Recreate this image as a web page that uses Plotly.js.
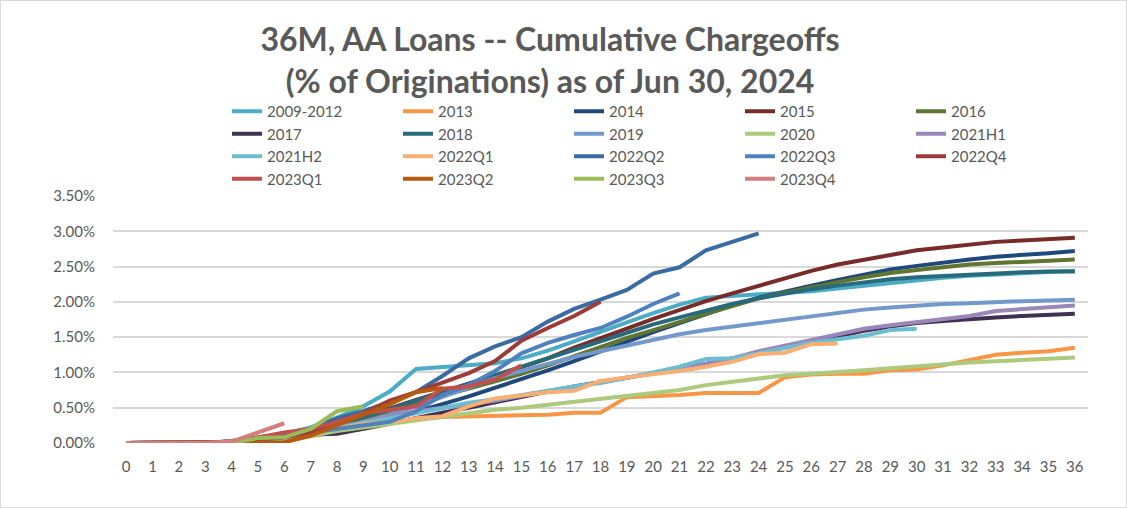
<!DOCTYPE html>
<html>
<head>
<meta charset="utf-8">
<script src="https://cdn.plot.ly/plotly-3.0.1.min.js"></script>
<style>
html,body{margin:0;padding:0;background:#fff;}
#wrap{position:relative;width:1127px;height:508px;}
#chart{width:1127px;height:508px;}
#frame{position:absolute;left:0;top:0;width:1125px;height:506px;border:1px solid #D9D9D9;pointer-events:none;}
</style>
</head>
<body>
<div id="wrap"><div id="chart"></div><div id="frame"></div></div>
<script>
// Months since origination (category axis)
const months = [0,1,2,3,4,5,6,7,8,9,10,11,12,13,14,15,16,17,18,19,20,21,22,23,24,25,26,27,28,29,30,31,32,33,34,35,36];

// Cumulative chargeoffs, % of originations, by vintage
const v2009_2012 = [0,0,0,0,0.02,0.07,0.13,0.22,0.36,0.52,0.73,1.05,1.08,1.11,1.13,1.20,1.31,1.44,1.58,1.71,1.84,1.96,2.06,2.08,2.10,2.12,2.15,2.19,2.23,2.27,2.31,2.34,2.37,2.39,2.41,2.43,2.44];
const v2013 = [0,0,0,0,0.01,0.03,0.06,0.10,0.15,0.20,0.27,0.35,0.37,0.38,0.38,0.40,0.40,0.43,0.43,0.65,0.66,0.68,0.71,0.71,0.71,0.93,0.97,0.98,0.98,1.03,1.04,1.10,1.17,1.25,1.28,1.30,1.35];
const v2014 = [0,0,0,0,0.01,0.05,0.08,0.11,0.15,0.24,0.34,0.45,0.55,0.66,0.78,0.90,1.03,1.16,1.30,1.44,1.57,1.70,1.83,1.95,2.06,2.15,2.23,2.31,2.39,2.46,2.51,2.56,2.60,2.64,2.66,2.69,2.72];
const v2015 = [0,0,0,0,0.03,0.08,0.12,0.17,0.26,0.37,0.49,0.61,0.73,0.84,0.95,1.07,1.20,1.35,1.48,1.62,1.76,1.89,2.01,2.12,2.23,2.34,2.44,2.53,2.60,2.67,2.73,2.77,2.81,2.85,2.87,2.89,2.91];
const v2016 = [0,0,0,0,0.01,0.04,0.08,0.13,0.22,0.32,0.44,0.56,0.67,0.77,0.87,0.98,1.10,1.23,1.36,1.49,1.60,1.72,1.83,1.94,2.05,2.13,2.21,2.28,2.35,2.41,2.45,2.49,2.53,2.55,2.57,2.59,2.60];
const v2017 = [0,0,0,0,0.01,0.05,0.10,0.12,0.13,0.20,0.28,0.36,0.43,0.50,0.58,0.66,0.73,0.80,0.86,0.92,0.98,1.05,1.12,1.20,1.28,1.36,1.44,1.52,1.59,1.65,1.70,1.73,1.76,1.78,1.80,1.82,1.83];
const v2018 = [0,0,0,0,0.01,0.05,0.10,0.16,0.25,0.36,0.48,0.60,0.72,0.83,0.95,1.07,1.20,1.32,1.44,1.56,1.68,1.78,1.88,1.97,2.05,2.12,2.18,2.23,2.28,2.32,2.35,2.37,2.39,2.41,2.42,2.43,2.43];
const v2019 = [0,0,0,0,0.01,0.03,0.06,0.12,0.20,0.30,0.40,0.52,0.65,0.78,0.92,1.02,1.12,1.22,1.30,1.38,1.46,1.54,1.60,1.65,1.69,1.75,1.80,1.84,1.89,1.92,1.95,1.97,1.98,2.00,2.01,2.02,2.03];
const v2020 = [0,0,0,0,0.01,0.03,0.06,0.10,0.17,0.22,0.27,0.33,0.38,0.43,0.47,0.50,0.54,0.58,0.62,0.66,0.70,0.75,0.82,0.87,0.92,0.96,0.98,1.00,1.03,1.06,1.09,1.12,1.14,1.16,1.18,1.20,1.21];
const v2021H1 = [0,0,0,0,0.02,0.06,0.10,0.15,0.22,0.30,0.38,0.45,0.50,0.55,0.60,0.67,0.74,0.80,0.86,0.92,0.98,1.05,1.12,1.20,1.30,1.38,1.47,1.55,1.62,1.67,1.71,1.75,1.80,1.87,1.90,1.93,1.95];
const v2021H2 = [0,0,0,0,0.02,0.05,0.10,0.15,0.22,0.28,0.35,0.42,0.50,0.57,0.62,0.68,0.75,0.80,0.85,0.92,1.00,1.08,1.19,1.20,1.27,1.35,1.42,1.47,1.52,1.60,1.62];
const v2022Q1 = [0,0,0,0,0.02,0.04,0.08,0.14,0.20,0.27,0.30,0.35,0.38,0.52,0.63,0.68,0.72,0.74,0.88,0.93,0.97,1.02,1.08,1.15,1.26,1.28,1.40,1.41];
const v2022Q2 = [0,0,0,0,0.02,0.05,0.12,0.20,0.35,0.45,0.58,0.72,0.95,1.20,1.37,1.50,1.72,1.90,2.03,2.17,2.40,2.49,2.73,2.85,2.97];
const v2022Q3 = [0,0,0,0,0.01,0.03,0.08,0.15,0.20,0.25,0.30,0.45,0.68,0.82,1.02,1.27,1.42,1.53,1.63,1.79,1.97,2.12];
const v2022Q4 = [0,0,0,0,0.01,0.05,0.08,0.15,0.30,0.42,0.60,0.72,0.86,0.99,1.16,1.45,1.63,1.80,2.00];
const v2023Q1 = [0,0,0,0,0.01,0.08,0.15,0.20,0.30,0.42,0.47,0.52,0.77,0.80,0.90,1.10];
const v2023Q2 = [0,0,0,0,0,0,0.01,0.10,0.25,0.40,0.55,0.72,0.78];
const v2023Q3 = [0,0,0,0,0,0.07,0.08,0.20,0.45,0.52];
const v2023Q4 = [0,0,0,0,0.02,0.15,0.28];

const seriesNames = ['2009-2012','2013','2014','2015','2016','2017','2018','2019','2020','2021H1','2021H2','2022Q1','2022Q2','2022Q3','2022Q4','2023Q1','2023Q2','2023Q3','2023Q4'];
const seriesValues = [v2009_2012,v2013,v2014,v2015,v2016,v2017,v2018,v2019,v2020,v2021H1,v2021H2,v2022Q1,v2022Q2,v2022Q3,v2022Q4,v2023Q1,v2023Q2,v2023Q3,v2023Q4];
const seriesColors = ['#4BACC6','#F79646','#1F497D','#772C2A','#5F7530','#403152','#276A7C','#7399CB','#ACC97C','#9A86B9','#6CBCD2','#F9AE72','#3A6BA2','#4F81BD','#9E3B38','#C0504D','#B65A10','#9BBB59','#D47F7D'];

const yTicks = [0,0.5,1,1.5,2,2.5,3,3.5];

const traces = seriesNames.map((name,i)=>({
  type:'scatter', mode:'lines', name:name,
  x: months.slice(0, seriesValues[i].length),
  y: seriesValues[i],
  line:{color:seriesColors[i], width:4}
}));

const FONT = 'Lato, "Open Sans", sans-serif';

const layout = {
  width:1127, height:508,
  margin:{l:113, r:39, t:196, b:65, autoexpand:false},
  paper_bgcolor:'#ffffff', plot_bgcolor:'#ffffff',
  showlegend:true,
  title:{
    text:'36M, AA Loans -- Cumulative Chargeoffs<br>(% of Originations) as of Jun 30, 2024',
    font:{family:FONT, size:32, color:'#595959', weight:700},
    x:550/1127, xanchor:'center', xref:'container',
    y:1-51/508, yanchor:'middle', yref:'container'
  },
  legend:{
    orientation:'h', x:(227-113)/975, xanchor:'left', y:1+(196-95)/247, yanchor:'top',
    entrywidth:126, entrywidthmode:'pixels',
    font:{family:FONT, size:15, color:'#595959'},
    bgcolor:'rgba(0,0,0,0)', traceorder:'normal'
  },
  xaxis:{
    type:'linear', range:[-0.5,36.5], tickmode:'array', tickvals:months, ticktext:months.map(String),
    showgrid:false, zeroline:false, showline:false,
    ticks:'outside', ticklen:10, tickcolor:'rgba(0,0,0,0)',
    tickfont:{family:FONT, size:15, color:'#595959'}
  },
  yaxis:{
    range:[0,3.5], tickmode:'array', tickvals:yTicks, ticktext:yTicks.map(v=>v.toFixed(2)+'%'),
    showgrid:true, gridcolor:'#D9D9D9', gridwidth:2, zeroline:false, showline:false,
    ticks:'outside', ticklen:14, tickcolor:'rgba(0,0,0,0)',
    tickfont:{family:FONT, size:15, color:'#595959'}
  },
  hovermode:false
};

Plotly.newPlot('chart', traces, layout, {displayModeBar:false, staticPlot:true});
</script>
</body>
</html>
